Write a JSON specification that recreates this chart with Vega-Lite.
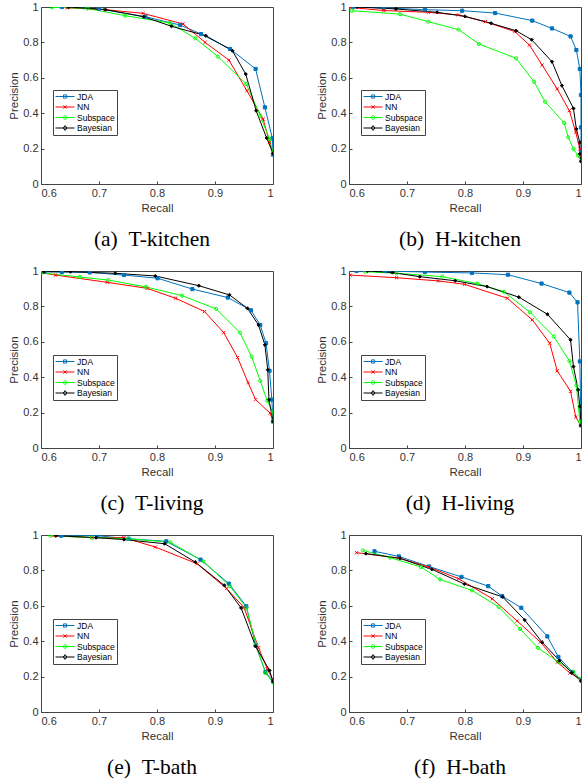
{
  "$schema": "https://vega.github.io/schema/vega-lite/v6.json",
  "background": "white",
  "padding": {"left": 8, "top": 0, "right": 2, "bottom": 0},
  "columns": 2,
  "spacing": {"column": 42, "row": 13},
  "resolve": {"scale": {"color": "independent"}, "legend": {"color": "independent"}},
  "config": {
    "view": {"stroke": "#444", "strokeWidth": 1},
    "axis": {"labelFont": "Liberation Sans", "labelFontSize": 11, "labelColor": "#333", "titleFont": "Liberation Sans", "titleFontSize": 11.5, "titleFontWeight": "normal", "titleColor": "#333", "grid": false, "domain": false, "tickColor": "#444", "tickSize": -3, "labelPadding": 6},
    "axisX": {"titlePadding": 4},
    "axisY": {"titlePadding": 3},
    "title": {"font": "Liberation Serif", "fontSize": 21.5, "fontWeight": "normal", "color": "black", "orient": "bottom", "offset": 15, "frame": "group", "dx": -5}
  },
  "datasets": {
    "a": [
      {"method":"JDA","i":0,"recall":0.636,"precision":1.0},{"method":"JDA","i":1,"recall":0.70,"precision":0.99},{"method":"JDA","i":2,"recall":0.78,"precision":0.945},{"method":"JDA","i":3,"recall":0.84,"precision":0.898},{"method":"JDA","i":4,"recall":0.876,"precision":0.847},{"method":"JDA","i":5,"recall":0.926,"precision":0.763},{"method":"JDA","i":6,"recall":0.97,"precision":0.65},{"method":"JDA","i":7,"recall":0.986,"precision":0.433},{"method":"JDA","i":8,"recall":0.999,"precision":0.258},{"method":"JDA","i":9,"recall":1.0,"precision":0.166},
      {"method":"NN","i":0,"recall":0.645,"precision":0.995},{"method":"NN","i":1,"recall":0.71,"precision":0.985},{"method":"NN","i":2,"recall":0.776,"precision":0.964},{"method":"NN","i":3,"recall":0.845,"precision":0.904},{"method":"NN","i":4,"recall":0.883,"precision":0.80},{"method":"NN","i":5,"recall":0.924,"precision":0.70},{"method":"NN","i":6,"recall":0.955,"precision":0.527},{"method":"NN","i":7,"recall":0.983,"precision":0.367},{"method":"NN","i":8,"recall":0.994,"precision":0.235},{"method":"NN","i":9,"recall":1.0,"precision":0.175},
      {"method":"Subspace","i":0,"recall":0.619,"precision":0.998},{"method":"Subspace","i":1,"recall":0.68,"precision":0.992},{"method":"Subspace","i":2,"recall":0.745,"precision":0.951},{"method":"Subspace","i":3,"recall":0.822,"precision":0.91},{"method":"Subspace","i":4,"recall":0.866,"precision":0.823},{"method":"Subspace","i":5,"recall":0.905,"precision":0.72},{"method":"Subspace","i":6,"recall":0.954,"precision":0.565},{"method":"Subspace","i":7,"recall":0.978,"precision":0.386},{"method":"Subspace","i":8,"recall":0.994,"precision":0.254},{"method":"Subspace","i":9,"recall":1.0,"precision":0.175},
      {"method":"Bayesian","i":0,"recall":0.648,"precision":1.0},{"method":"Bayesian","i":1,"recall":0.711,"precision":0.985},{"method":"Bayesian","i":2,"recall":0.777,"precision":0.945},{"method":"Bayesian","i":3,"recall":0.825,"precision":0.891},{"method":"Bayesian","i":4,"recall":0.884,"precision":0.838},{"method":"Bayesian","i":5,"recall":0.93,"precision":0.753},{"method":"Bayesian","i":6,"recall":0.953,"precision":0.621},{"method":"Bayesian","i":7,"recall":0.971,"precision":0.414},{"method":"Bayesian","i":8,"recall":0.989,"precision":0.26},{"method":"Bayesian","i":9,"recall":1.0,"precision":0.173}
    ],
    "b": [
      {"method":"JDA","i":0,"recall":0.607,"precision":1.0},{"method":"JDA","i":1,"recall":0.66,"precision":0.995},{"method":"JDA","i":2,"recall":0.731,"precision":0.985},{"method":"JDA","i":3,"recall":0.795,"precision":0.979},{"method":"JDA","i":4,"recall":0.852,"precision":0.966},{"method":"JDA","i":5,"recall":0.916,"precision":0.923},{"method":"JDA","i":6,"recall":0.95,"precision":0.879},{"method":"JDA","i":7,"recall":0.982,"precision":0.834},{"method":"JDA","i":8,"recall":0.992,"precision":0.757},{"method":"JDA","i":9,"recall":0.998,"precision":0.65},{"method":"JDA","i":10,"recall":1.0,"precision":0.503},{"method":"JDA","i":11,"recall":1.0,"precision":0.32},{"method":"JDA","i":12,"recall":1.0,"precision":0.188},
      {"method":"NN","i":0,"recall":0.6,"precision":0.998},{"method":"NN","i":1,"recall":0.66,"precision":0.98},{"method":"NN","i":2,"recall":0.737,"precision":0.97},{"method":"NN","i":3,"recall":0.789,"precision":0.955},{"method":"NN","i":4,"recall":0.835,"precision":0.917},{"method":"NN","i":5,"recall":0.886,"precision":0.861},{"method":"NN","i":6,"recall":0.911,"precision":0.785},{"method":"NN","i":7,"recall":0.933,"precision":0.672},{"method":"NN","i":8,"recall":0.959,"precision":0.537},{"method":"NN","i":9,"recall":0.98,"precision":0.414},{"method":"NN","i":10,"recall":0.991,"precision":0.292},{"method":"NN","i":11,"recall":0.998,"precision":0.198},{"method":"NN","i":12,"recall":1.0,"precision":0.16},
      {"method":"Subspace","i":0,"recall":0.605,"precision":0.979},{"method":"Subspace","i":1,"recall":0.688,"precision":0.96},{"method":"Subspace","i":2,"recall":0.737,"precision":0.917},{"method":"Subspace","i":3,"recall":0.789,"precision":0.872},{"method":"Subspace","i":4,"recall":0.824,"precision":0.791},{"method":"Subspace","i":5,"recall":0.888,"precision":0.71},{"method":"Subspace","i":6,"recall":0.919,"precision":0.578},{"method":"Subspace","i":7,"recall":0.938,"precision":0.465},{"method":"Subspace","i":8,"recall":0.971,"precision":0.345},{"method":"Subspace","i":9,"recall":0.978,"precision":0.264},{"method":"Subspace","i":10,"recall":0.987,"precision":0.198},{"method":"Subspace","i":11,"recall":0.995,"precision":0.16},{"method":"Subspace","i":12,"recall":1.0,"precision":0.128},
      {"method":"Bayesian","i":0,"recall":0.614,"precision":1.0},{"method":"Bayesian","i":1,"recall":0.681,"precision":0.989},{"method":"Bayesian","i":2,"recall":0.752,"precision":0.97},{"method":"Bayesian","i":3,"recall":0.80,"precision":0.947},{"method":"Bayesian","i":4,"recall":0.845,"precision":0.908},{"method":"Bayesian","i":5,"recall":0.888,"precision":0.866},{"method":"Bayesian","i":6,"recall":0.915,"precision":0.815},{"method":"Bayesian","i":7,"recall":0.95,"precision":0.691},{"method":"Bayesian","i":8,"recall":0.967,"precision":0.556},{"method":"Bayesian","i":9,"recall":0.987,"precision":0.427},{"method":"Bayesian","i":10,"recall":0.992,"precision":0.311},{"method":"Bayesian","i":11,"recall":0.998,"precision":0.235},{"method":"Bayesian","i":12,"recall":0.998,"precision":0.17},{"method":"Bayesian","i":13,"recall":1.0,"precision":0.128}
    ],
    "c": [
      {"method":"JDA","i":0,"recall":0.606,"precision":0.996},{"method":"JDA","i":1,"recall":0.636,"precision":0.994},{"method":"JDA","i":2,"recall":0.684,"precision":0.992},{"method":"JDA","i":3,"recall":0.743,"precision":0.977},{"method":"JDA","i":4,"recall":0.801,"precision":0.959},{"method":"JDA","i":5,"recall":0.861,"precision":0.898},{"method":"JDA","i":6,"recall":0.922,"precision":0.85},{"method":"JDA","i":7,"recall":0.962,"precision":0.778},{"method":"JDA","i":8,"recall":0.978,"precision":0.695},{"method":"JDA","i":9,"recall":0.988,"precision":0.592},{"method":"JDA","i":10,"recall":0.994,"precision":0.436},{"method":"JDA","i":11,"recall":0.998,"precision":0.273},{"method":"JDA","i":12,"recall":1.0,"precision":0.15},
      {"method":"NN","i":0,"recall":0.6,"precision":0.99},{"method":"NN","i":1,"recall":0.625,"precision":0.977},{"method":"NN","i":2,"recall":0.714,"precision":0.936},{"method":"NN","i":3,"recall":0.783,"precision":0.902},{"method":"NN","i":4,"recall":0.832,"precision":0.846},{"method":"NN","i":5,"recall":0.882,"precision":0.771},{"method":"NN","i":6,"recall":0.915,"precision":0.652},{"method":"NN","i":7,"recall":0.939,"precision":0.511},{"method":"NN","i":8,"recall":0.957,"precision":0.37},{"method":"NN","i":9,"recall":0.97,"precision":0.273},{"method":"NN","i":10,"recall":0.995,"precision":0.197},{"method":"NN","i":11,"recall":1.0,"precision":0.15},
      {"method":"Subspace","i":0,"recall":0.6,"precision":0.99},{"method":"Subspace","i":1,"recall":0.667,"precision":0.966},{"method":"Subspace","i":2,"recall":0.716,"precision":0.949},{"method":"Subspace","i":3,"recall":0.781,"precision":0.91},{"method":"Subspace","i":4,"recall":0.843,"precision":0.861},{"method":"Subspace","i":5,"recall":0.902,"precision":0.786},{"method":"Subspace","i":6,"recall":0.943,"precision":0.652},{"method":"Subspace","i":7,"recall":0.963,"precision":0.517},{"method":"Subspace","i":8,"recall":0.978,"precision":0.38},{"method":"Subspace","i":9,"recall":0.99,"precision":0.267},{"method":"Subspace","i":10,"recall":1.0,"precision":0.201},{"method":"Subspace","i":11,"recall":1.0,"precision":0.15},
      {"method":"Bayesian","i":0,"recall":0.605,"precision":0.996},{"method":"Bayesian","i":1,"recall":0.651,"precision":0.996},{"method":"Bayesian","i":2,"recall":0.728,"precision":0.987},{"method":"Bayesian","i":3,"recall":0.797,"precision":0.972},{"method":"Bayesian","i":4,"recall":0.872,"precision":0.917},{"method":"Bayesian","i":5,"recall":0.925,"precision":0.865},{"method":"Bayesian","i":6,"recall":0.956,"precision":0.789},{"method":"Bayesian","i":7,"recall":0.975,"precision":0.695},{"method":"Bayesian","i":8,"recall":0.986,"precision":0.583},{"method":"Bayesian","i":9,"recall":0.991,"precision":0.442},{"method":"Bayesian","i":10,"recall":0.993,"precision":0.273},{"method":"Bayesian","i":11,"recall":1.0,"precision":0.15}
    ],
    "d": [
      {"method":"JDA","i":0,"recall":0.613,"precision":1.0},{"method":"JDA","i":1,"recall":0.662,"precision":1.0},{"method":"JDA","i":2,"recall":0.731,"precision":0.994},{"method":"JDA","i":3,"recall":0.812,"precision":0.989},{"method":"JDA","i":4,"recall":0.874,"precision":0.979},{"method":"JDA","i":5,"recall":0.932,"precision":0.929},{"method":"JDA","i":6,"recall":0.98,"precision":0.878},{"method":"JDA","i":7,"recall":0.994,"precision":0.823},{"method":"JDA","i":8,"recall":0.998,"precision":0.489},{"method":"JDA","i":9,"recall":1.0,"precision":0.128},
      {"method":"NN","i":0,"recall":0.602,"precision":0.977},{"method":"NN","i":1,"recall":0.682,"precision":0.962},{"method":"NN","i":2,"recall":0.754,"precision":0.944},{"method":"NN","i":3,"recall":0.799,"precision":0.925},{"method":"NN","i":4,"recall":0.873,"precision":0.846},{"method":"NN","i":5,"recall":0.916,"precision":0.724},{"method":"NN","i":6,"recall":0.946,"precision":0.592},{"method":"NN","i":7,"recall":0.959,"precision":0.436},{"method":"NN","i":8,"recall":0.982,"precision":0.32},{"method":"NN","i":9,"recall":0.991,"precision":0.175},{"method":"NN","i":10,"recall":1.0,"precision":0.128},
      {"method":"Subspace","i":0,"recall":0.628,"precision":0.996},{"method":"Subspace","i":1,"recall":0.682,"precision":0.987},{"method":"Subspace","i":2,"recall":0.761,"precision":0.968},{"method":"Subspace","i":3,"recall":0.821,"precision":0.929},{"method":"Subspace","i":4,"recall":0.867,"precision":0.883},{"method":"Subspace","i":5,"recall":0.912,"precision":0.767},{"method":"Subspace","i":6,"recall":0.953,"precision":0.63},{"method":"Subspace","i":7,"recall":0.98,"precision":0.492},{"method":"Subspace","i":8,"recall":0.992,"precision":0.353},{"method":"Subspace","i":9,"recall":0.998,"precision":0.15},{"method":"Subspace","i":10,"recall":1.0,"precision":0.14},
      {"method":"Bayesian","i":0,"recall":0.632,"precision":1.0},{"method":"Bayesian","i":1,"recall":0.675,"precision":0.991},{"method":"Bayesian","i":2,"recall":0.722,"precision":0.968},{"method":"Bayesian","i":3,"recall":0.783,"precision":0.945},{"method":"Bayesian","i":4,"recall":0.838,"precision":0.912},{"method":"Bayesian","i":5,"recall":0.893,"precision":0.852},{"method":"Bayesian","i":6,"recall":0.942,"precision":0.756},{"method":"Bayesian","i":7,"recall":0.982,"precision":0.611},{"method":"Bayesian","i":8,"recall":0.987,"precision":0.46},{"method":"Bayesian","i":9,"recall":0.995,"precision":0.329},{"method":"Bayesian","i":10,"recall":0.998,"precision":0.235},{"method":"Bayesian","i":11,"recall":1.0,"precision":0.128}
    ],
    "e": [
      {"method":"JDA","i":0,"recall":0.635,"precision":0.996},{"method":"JDA","i":1,"recall":0.697,"precision":0.996},{"method":"JDA","i":2,"recall":0.751,"precision":0.979},{"method":"JDA","i":3,"recall":0.816,"precision":0.964},{"method":"JDA","i":4,"recall":0.875,"precision":0.861},{"method":"JDA","i":5,"recall":0.924,"precision":0.725},{"method":"JDA","i":6,"recall":0.954,"precision":0.597},{"method":"JDA","i":7,"recall":0.97,"precision":0.377},{"method":"JDA","i":8,"recall":0.987,"precision":0.226},{"method":"JDA","i":9,"recall":1.0,"precision":0.173},
      {"method":"NN","i":0,"recall":0.622,"precision":0.996},{"method":"NN","i":1,"recall":0.688,"precision":0.985},{"method":"NN","i":2,"recall":0.743,"precision":0.985},{"method":"NN","i":3,"recall":0.797,"precision":0.932},{"method":"NN","i":4,"recall":0.869,"precision":0.838},{"method":"NN","i":5,"recall":0.92,"precision":0.697},{"method":"NN","i":6,"recall":0.95,"precision":0.59},{"method":"NN","i":7,"recall":0.975,"precision":0.363},{"method":"NN","i":8,"recall":0.99,"precision":0.245},{"method":"NN","i":9,"recall":1.0,"precision":0.179},
      {"method":"Subspace","i":0,"recall":0.616,"precision":0.996},{"method":"Subspace","i":1,"recall":0.688,"precision":0.985},{"method":"Subspace","i":2,"recall":0.751,"precision":0.979},{"method":"Subspace","i":3,"recall":0.823,"precision":0.959},{"method":"Subspace","i":4,"recall":0.88,"precision":0.851},{"method":"Subspace","i":5,"recall":0.926,"precision":0.71},{"method":"Subspace","i":6,"recall":0.954,"precision":0.589},{"method":"Subspace","i":7,"recall":0.971,"precision":0.382},{"method":"Subspace","i":8,"recall":0.987,"precision":0.22},{"method":"Subspace","i":9,"recall":1.0,"precision":0.166},
      {"method":"Bayesian","i":0,"recall":0.626,"precision":0.996},{"method":"Bayesian","i":1,"recall":0.695,"precision":0.985},{"method":"Bayesian","i":2,"recall":0.743,"precision":0.974},{"method":"Bayesian","i":3,"recall":0.813,"precision":0.951},{"method":"Bayesian","i":4,"recall":0.866,"precision":0.847},{"method":"Bayesian","i":5,"recall":0.916,"precision":0.716},{"method":"Bayesian","i":6,"recall":0.945,"precision":0.588},{"method":"Bayesian","i":7,"recall":0.97,"precision":0.371},{"method":"Bayesian","i":8,"recall":0.994,"precision":0.235},{"method":"Bayesian","i":9,"recall":1.0,"precision":0.173}
    ],
    "f": [
      {"method":"JDA","i":0,"recall":0.644,"precision":0.908},{"method":"JDA","i":1,"recall":0.686,"precision":0.879},{"method":"JDA","i":2,"recall":0.738,"precision":0.822},{"method":"JDA","i":3,"recall":0.794,"precision":0.763},{"method":"JDA","i":4,"recall":0.84,"precision":0.711},{"method":"JDA","i":5,"recall":0.864,"precision":0.655},{"method":"JDA","i":6,"recall":0.897,"precision":0.589},{"method":"JDA","i":7,"recall":0.942,"precision":0.427},{"method":"JDA","i":8,"recall":0.961,"precision":0.311},{"method":"JDA","i":9,"recall":0.985,"precision":0.226},{"method":"JDA","i":10,"recall":1.0,"precision":0.183},
      {"method":"NN","i":0,"recall":0.613,"precision":0.9},{"method":"NN","i":1,"recall":0.686,"precision":0.87},{"method":"NN","i":2,"recall":0.738,"precision":0.819},{"method":"NN","i":3,"recall":0.789,"precision":0.753},{"method":"NN","i":4,"recall":0.847,"precision":0.64},{"method":"NN","i":5,"recall":0.89,"precision":0.514},{"method":"NN","i":6,"recall":0.93,"precision":0.395},{"method":"NN","i":7,"recall":0.959,"precision":0.282},{"method":"NN","i":8,"recall":0.981,"precision":0.22},{"method":"NN","i":9,"recall":1.0,"precision":0.183},
      {"method":"Subspace","i":0,"recall":0.624,"precision":0.913},{"method":"Subspace","i":1,"recall":0.671,"precision":0.872},{"method":"Subspace","i":2,"recall":0.724,"precision":0.819},{"method":"Subspace","i":3,"recall":0.757,"precision":0.749},{"method":"Subspace","i":4,"recall":0.812,"precision":0.687},{"method":"Subspace","i":5,"recall":0.858,"precision":0.593},{"method":"Subspace","i":6,"recall":0.895,"precision":0.469},{"method":"Subspace","i":7,"recall":0.926,"precision":0.362},{"method":"Subspace","i":8,"recall":0.961,"precision":0.282},{"method":"Subspace","i":9,"recall":0.987,"precision":0.226},{"method":"Subspace","i":10,"recall":1.0,"precision":0.183},
      {"method":"Bayesian","i":0,"recall":0.629,"precision":0.895},{"method":"Bayesian","i":1,"recall":0.688,"precision":0.868},{"method":"Bayesian","i":2,"recall":0.743,"precision":0.806},{"method":"Bayesian","i":3,"recall":0.799,"precision":0.723},{"method":"Bayesian","i":4,"recall":0.865,"precision":0.65},{"method":"Bayesian","i":5,"recall":0.903,"precision":0.52},{"method":"Bayesian","i":6,"recall":0.933,"precision":0.394},{"method":"Bayesian","i":7,"recall":0.963,"precision":0.29},{"method":"Bayesian","i":8,"recall":0.984,"precision":0.222},{"method":"Bayesian","i":9,"recall":1.0,"precision":0.175}
    ]
  },
  "concat": [
    {"title": {"text": "(a)\u2002T-kitchen"}, "width": 232, "height": 177, "data": {"name": "a"},
     "encoding": {
       "x": {"field": "recall", "type": "quantitative", "scale": {"domain": [0.6, 1], "nice": false, "zero": false}, "axis": {"values": [0.6, 0.7, 0.8, 0.9, 1], "format": "~g", "title": "Recall"}},
       "y": {"field": "precision", "type": "quantitative", "scale": {"domain": [0, 1], "nice": false}, "axis": {"values": [0, 0.2, 0.4, 0.6, 0.8, 1], "format": "~g", "title": "Precision"}}
     },
     "layer": [
       {"mark": {"type": "line", "strokeWidth": 1, "clip": true}, "encoding": {"order": {"field": "i", "type": "quantitative"},
         "color": {"field": "method", "type": "nominal", "scale": {"domain": ["JDA", "NN", "Subspace", "Bayesian"], "range": ["#0072BD", "#FF0000", "#00FF00", "#000000"]},
           "legend": {"title": null, "orient": "none", "legendX": 12, "legendY": 83, "strokeColor": "#444", "fillColor": "white", "padding": 2, "labelFont": "Liberation Sans", "labelFontSize": 8.5, "labelColor": "black", "symbolSize": 64, "symbolStrokeWidth": 1, "rowPadding": 1.5, "labelOffset": 13,
             "symbolType": {"expr": "datum.value === 'JDA' ? 'M-1,0H3.75M1,-0.4H1.8V0.4H1Z' : datum.value === 'NN' ? 'M-1,0H3.75M1,-0.4L1.8,0.4M1.8,-0.4L1,0.4' : datum.value === 'Subspace' ? 'M-1,0H3.75M1.85,0A0.45,0.45,0,1,1,0.95,0A0.45,0.45,0,1,1,1.85,0' : 'M-1,0H3.75M1.4,-0.6L1.85,0L1.4,0.6L0.95,0Z'"}}}}},
       {"mark": {"type": "point", "filled": false, "size": 10, "strokeWidth": 1, "opacity": 1, "clip": true, "fill": {"expr": "datum.method === 'JDA' ? '#0072BD' : datum.method === 'Bayesian' ? '#000000' : 'transparent'"}, "shape": {"expr": "datum.method === 'JDA' ? 'square' : datum.method === 'NN' ? 'M-1,-1L1,1M1,-1L-1,1' : datum.method === 'Subspace' ? 'circle' : 'diamond'"}}, "encoding": {
         "color": {"field": "method", "type": "nominal", "scale": {"domain": ["JDA", "NN", "Subspace", "Bayesian"], "range": ["#0072BD", "#FF0000", "#00FF00", "#000000"]}, "legend": null}}}
     ]},
    {"title": {"text": "(b)\u2002H-kitchen"}, "width": 232, "height": 177, "data": {"name": "b"},
     "encoding": {
       "x": {"field": "recall", "type": "quantitative", "scale": {"domain": [0.6, 1], "nice": false, "zero": false}, "axis": {"values": [0.6, 0.7, 0.8, 0.9, 1], "format": "~g", "title": "Recall"}},
       "y": {"field": "precision", "type": "quantitative", "scale": {"domain": [0, 1], "nice": false}, "axis": {"values": [0, 0.2, 0.4, 0.6, 0.8, 1], "format": "~g", "title": "Precision"}}
     },
     "layer": [
       {"mark": {"type": "line", "strokeWidth": 1, "clip": true}, "encoding": {"order": {"field": "i", "type": "quantitative"},
         "color": {"field": "method", "type": "nominal", "scale": {"domain": ["JDA", "NN", "Subspace", "Bayesian"], "range": ["#0072BD", "#FF0000", "#00FF00", "#000000"]},
           "legend": {"title": null, "orient": "none", "legendX": 12, "legendY": 83, "strokeColor": "#444", "fillColor": "white", "padding": 2, "labelFont": "Liberation Sans", "labelFontSize": 8.5, "labelColor": "black", "symbolSize": 64, "symbolStrokeWidth": 1, "rowPadding": 1.5, "labelOffset": 13,
             "symbolType": {"expr": "datum.value === 'JDA' ? 'M-1,0H3.75M1,-0.4H1.8V0.4H1Z' : datum.value === 'NN' ? 'M-1,0H3.75M1,-0.4L1.8,0.4M1.8,-0.4L1,0.4' : datum.value === 'Subspace' ? 'M-1,0H3.75M1.85,0A0.45,0.45,0,1,1,0.95,0A0.45,0.45,0,1,1,1.85,0' : 'M-1,0H3.75M1.4,-0.6L1.85,0L1.4,0.6L0.95,0Z'"}}}}},
       {"mark": {"type": "point", "filled": false, "size": 10, "strokeWidth": 1, "opacity": 1, "clip": true, "fill": {"expr": "datum.method === 'JDA' ? '#0072BD' : datum.method === 'Bayesian' ? '#000000' : 'transparent'"}, "shape": {"expr": "datum.method === 'JDA' ? 'square' : datum.method === 'NN' ? 'M-1,-1L1,1M1,-1L-1,1' : datum.method === 'Subspace' ? 'circle' : 'diamond'"}}, "encoding": {
         "color": {"field": "method", "type": "nominal", "scale": {"domain": ["JDA", "NN", "Subspace", "Bayesian"], "range": ["#0072BD", "#FF0000", "#00FF00", "#000000"]}, "legend": null}}}
     ]},
    {"title": {"text": "(c)\u2002T-living"}, "width": 232, "height": 177, "data": {"name": "c"},
     "encoding": {
       "x": {"field": "recall", "type": "quantitative", "scale": {"domain": [0.6, 1], "nice": false, "zero": false}, "axis": {"values": [0.6, 0.7, 0.8, 0.9, 1], "format": "~g", "title": "Recall"}},
       "y": {"field": "precision", "type": "quantitative", "scale": {"domain": [0, 1], "nice": false}, "axis": {"values": [0, 0.2, 0.4, 0.6, 0.8, 1], "format": "~g", "title": "Precision"}}
     },
     "layer": [
       {"mark": {"type": "line", "strokeWidth": 1, "clip": true}, "encoding": {"order": {"field": "i", "type": "quantitative"},
         "color": {"field": "method", "type": "nominal", "scale": {"domain": ["JDA", "NN", "Subspace", "Bayesian"], "range": ["#0072BD", "#FF0000", "#00FF00", "#000000"]},
           "legend": {"title": null, "orient": "none", "legendX": 12, "legendY": 84, "strokeColor": "#444", "fillColor": "white", "padding": 2, "labelFont": "Liberation Sans", "labelFontSize": 8.5, "labelColor": "black", "symbolSize": 64, "symbolStrokeWidth": 1, "rowPadding": 1.5, "labelOffset": 13,
             "symbolType": {"expr": "datum.value === 'JDA' ? 'M-1,0H3.75M1,-0.4H1.8V0.4H1Z' : datum.value === 'NN' ? 'M-1,0H3.75M1,-0.4L1.8,0.4M1.8,-0.4L1,0.4' : datum.value === 'Subspace' ? 'M-1,0H3.75M1.85,0A0.45,0.45,0,1,1,0.95,0A0.45,0.45,0,1,1,1.85,0' : 'M-1,0H3.75M1.4,-0.6L1.85,0L1.4,0.6L0.95,0Z'"}}}}},
       {"mark": {"type": "point", "filled": false, "size": 10, "strokeWidth": 1, "opacity": 1, "clip": true, "fill": {"expr": "datum.method === 'JDA' ? '#0072BD' : datum.method === 'Bayesian' ? '#000000' : 'transparent'"}, "shape": {"expr": "datum.method === 'JDA' ? 'square' : datum.method === 'NN' ? 'M-1,-1L1,1M1,-1L-1,1' : datum.method === 'Subspace' ? 'circle' : 'diamond'"}}, "encoding": {
         "color": {"field": "method", "type": "nominal", "scale": {"domain": ["JDA", "NN", "Subspace", "Bayesian"], "range": ["#0072BD", "#FF0000", "#00FF00", "#000000"]}, "legend": null}}}
     ]},
    {"title": {"text": "(d)\u2002H-living"}, "width": 232, "height": 177, "data": {"name": "d"},
     "encoding": {
       "x": {"field": "recall", "type": "quantitative", "scale": {"domain": [0.6, 1], "nice": false, "zero": false}, "axis": {"values": [0.6, 0.7, 0.8, 0.9, 1], "format": "~g", "title": "Recall"}},
       "y": {"field": "precision", "type": "quantitative", "scale": {"domain": [0, 1], "nice": false}, "axis": {"values": [0, 0.2, 0.4, 0.6, 0.8, 1], "format": "~g", "title": "Precision"}}
     },
     "layer": [
       {"mark": {"type": "line", "strokeWidth": 1, "clip": true}, "encoding": {"order": {"field": "i", "type": "quantitative"},
         "color": {"field": "method", "type": "nominal", "scale": {"domain": ["JDA", "NN", "Subspace", "Bayesian"], "range": ["#0072BD", "#FF0000", "#00FF00", "#000000"]},
           "legend": {"title": null, "orient": "none", "legendX": 12, "legendY": 84, "strokeColor": "#444", "fillColor": "white", "padding": 2, "labelFont": "Liberation Sans", "labelFontSize": 8.5, "labelColor": "black", "symbolSize": 64, "symbolStrokeWidth": 1, "rowPadding": 1.5, "labelOffset": 13,
             "symbolType": {"expr": "datum.value === 'JDA' ? 'M-1,0H3.75M1,-0.4H1.8V0.4H1Z' : datum.value === 'NN' ? 'M-1,0H3.75M1,-0.4L1.8,0.4M1.8,-0.4L1,0.4' : datum.value === 'Subspace' ? 'M-1,0H3.75M1.85,0A0.45,0.45,0,1,1,0.95,0A0.45,0.45,0,1,1,1.85,0' : 'M-1,0H3.75M1.4,-0.6L1.85,0L1.4,0.6L0.95,0Z'"}}}}},
       {"mark": {"type": "point", "filled": false, "size": 10, "strokeWidth": 1, "opacity": 1, "clip": true, "fill": {"expr": "datum.method === 'JDA' ? '#0072BD' : datum.method === 'Bayesian' ? '#000000' : 'transparent'"}, "shape": {"expr": "datum.method === 'JDA' ? 'square' : datum.method === 'NN' ? 'M-1,-1L1,1M1,-1L-1,1' : datum.method === 'Subspace' ? 'circle' : 'diamond'"}}, "encoding": {
         "color": {"field": "method", "type": "nominal", "scale": {"domain": ["JDA", "NN", "Subspace", "Bayesian"], "range": ["#0072BD", "#FF0000", "#00FF00", "#000000"]}, "legend": null}}}
     ]},
    {"title": {"text": "(e)\u2002T-bath"}, "width": 232, "height": 177, "data": {"name": "e"},
     "encoding": {
       "x": {"field": "recall", "type": "quantitative", "scale": {"domain": [0.6, 1], "nice": false, "zero": false}, "axis": {"values": [0.6, 0.7, 0.8, 0.9, 1], "format": "~g", "title": "Recall"}},
       "y": {"field": "precision", "type": "quantitative", "scale": {"domain": [0, 1], "nice": false}, "axis": {"values": [0, 0.2, 0.4, 0.6, 0.8, 1], "format": "~g", "title": "Precision"}}
     },
     "layer": [
       {"mark": {"type": "line", "strokeWidth": 1, "clip": true}, "encoding": {"order": {"field": "i", "type": "quantitative"},
         "color": {"field": "method", "type": "nominal", "scale": {"domain": ["JDA", "NN", "Subspace", "Bayesian"], "range": ["#0072BD", "#FF0000", "#00FF00", "#000000"]},
           "legend": {"title": null, "orient": "none", "legendX": 12, "legendY": 84, "strokeColor": "#444", "fillColor": "white", "padding": 2, "labelFont": "Liberation Sans", "labelFontSize": 8.5, "labelColor": "black", "symbolSize": 64, "symbolStrokeWidth": 1, "rowPadding": 1.5, "labelOffset": 13,
             "symbolType": {"expr": "datum.value === 'JDA' ? 'M-1,0H3.75M1,-0.4H1.8V0.4H1Z' : datum.value === 'NN' ? 'M-1,0H3.75M1,-0.4L1.8,0.4M1.8,-0.4L1,0.4' : datum.value === 'Subspace' ? 'M-1,0H3.75M1.85,0A0.45,0.45,0,1,1,0.95,0A0.45,0.45,0,1,1,1.85,0' : 'M-1,0H3.75M1.4,-0.6L1.85,0L1.4,0.6L0.95,0Z'"}}}}},
       {"mark": {"type": "point", "filled": false, "size": 10, "strokeWidth": 1, "opacity": 1, "clip": true, "fill": {"expr": "datum.method === 'JDA' ? '#0072BD' : datum.method === 'Bayesian' ? '#000000' : 'transparent'"}, "shape": {"expr": "datum.method === 'JDA' ? 'square' : datum.method === 'NN' ? 'M-1,-1L1,1M1,-1L-1,1' : datum.method === 'Subspace' ? 'circle' : 'diamond'"}}, "encoding": {
         "color": {"field": "method", "type": "nominal", "scale": {"domain": ["JDA", "NN", "Subspace", "Bayesian"], "range": ["#0072BD", "#FF0000", "#00FF00", "#000000"]}, "legend": null}}}
     ]},
    {"title": {"text": "(f)\u2002H-bath"}, "width": 232, "height": 177, "data": {"name": "f"},
     "encoding": {
       "x": {"field": "recall", "type": "quantitative", "scale": {"domain": [0.6, 1], "nice": false, "zero": false}, "axis": {"values": [0.6, 0.7, 0.8, 0.9, 1], "format": "~g", "title": "Recall"}},
       "y": {"field": "precision", "type": "quantitative", "scale": {"domain": [0, 1], "nice": false}, "axis": {"values": [0, 0.2, 0.4, 0.6, 0.8, 1], "format": "~g", "title": "Precision"}}
     },
     "layer": [
       {"mark": {"type": "line", "strokeWidth": 1, "clip": true}, "encoding": {"order": {"field": "i", "type": "quantitative"},
         "color": {"field": "method", "type": "nominal", "scale": {"domain": ["JDA", "NN", "Subspace", "Bayesian"], "range": ["#0072BD", "#FF0000", "#00FF00", "#000000"]},
           "legend": {"title": null, "orient": "none", "legendX": 12, "legendY": 84, "strokeColor": "#444", "fillColor": "white", "padding": 2, "labelFont": "Liberation Sans", "labelFontSize": 8.5, "labelColor": "black", "symbolSize": 64, "symbolStrokeWidth": 1, "rowPadding": 1.5, "labelOffset": 13,
             "symbolType": {"expr": "datum.value === 'JDA' ? 'M-1,0H3.75M1,-0.4H1.8V0.4H1Z' : datum.value === 'NN' ? 'M-1,0H3.75M1,-0.4L1.8,0.4M1.8,-0.4L1,0.4' : datum.value === 'Subspace' ? 'M-1,0H3.75M1.85,0A0.45,0.45,0,1,1,0.95,0A0.45,0.45,0,1,1,1.85,0' : 'M-1,0H3.75M1.4,-0.6L1.85,0L1.4,0.6L0.95,0Z'"}}}}},
       {"mark": {"type": "point", "filled": false, "size": 10, "strokeWidth": 1, "opacity": 1, "clip": true, "fill": {"expr": "datum.method === 'JDA' ? '#0072BD' : datum.method === 'Bayesian' ? '#000000' : 'transparent'"}, "shape": {"expr": "datum.method === 'JDA' ? 'square' : datum.method === 'NN' ? 'M-1,-1L1,1M1,-1L-1,1' : datum.method === 'Subspace' ? 'circle' : 'diamond'"}}, "encoding": {
         "color": {"field": "method", "type": "nominal", "scale": {"domain": ["JDA", "NN", "Subspace", "Bayesian"], "range": ["#0072BD", "#FF0000", "#00FF00", "#000000"]}, "legend": null}}}
     ]}
  ]
}
